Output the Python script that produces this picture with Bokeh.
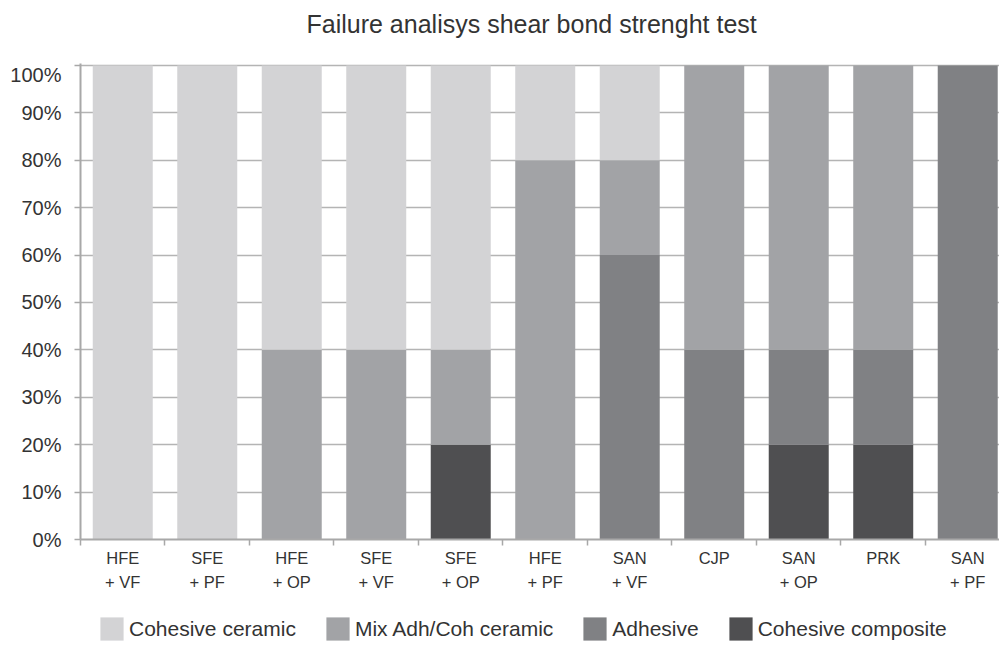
from bokeh.plotting import figure
from bokeh.layouts import column
from bokeh.models import (ColumnDataSource, FixedTicker, Range1d, Legend, LegendItem, Label)
from bokeh.embed import file_html
from bokeh.resources import INLINE

title_text = "Failure analisys shear bond strenght test"
categories = ["HFE\n+ VF", "SFE\n+ PF", "HFE\n+ OP", "SFE\n+ VF", "SFE\n+ OP", "HFE\n+ PF",
              "SAN\n+ VF", "CJP", "SAN\n+ OP", "PRK", "SAN\n+ PF"]
cohesive_ceramic = [100, 100, 60, 60, 60, 20, 20, 0, 0, 0, 0]
mix_adh_coh = [0, 0, 40, 40, 20, 80, 20, 60, 60, 60, 0]
adhesive = [0, 0, 0, 0, 0, 0, 60, 40, 20, 20, 100]
cohesive_composite = [0, 0, 0, 0, 20, 0, 0, 0, 20, 20, 0]
y_ticks = [0, 10, 20, 30, 40, 50, 60, 70, 80, 90, 100]
series_names = ["Cohesive composite", "Adhesive", "Mix Adh/Coh ceramic", "Cohesive ceramic"]
colors = ["#4f4f51", "#808184", "#a2a3a6", "#d3d3d5"]

x = list(range(len(categories)))
src = ColumnDataSource(dict(x=x, cc=cohesive_composite, ad=adhesive, mx=mix_adh_coh, ce=cohesive_ceramic))
stack_keys = ["cc", "ad", "mx", "ce"]

FONT = "Liberation Sans"
TXT = "#333333"


def strip(height):
    f = figure(width=999, height=height, output_backend="svg", toolbar_location=None,
               x_range=Range1d(-0.5, 10.376), y_range=Range1d(1000, 1001),
               x_axis_type=None, y_axis_type=None,
               min_border_left=0, min_border_right=0, min_border_top=0, min_border_bottom=0)
    f.outline_line_color = None
    f.xgrid.grid_line_color = None
    f.ygrid.grid_line_color = None
    return f


# title strip
r = strip(63)
r.add_layout(Label(x=226, y=40, x_units="screen", y_units="screen", text=title_text,
                   text_font=FONT, text_font_size="25px", text_color=TXT,
                   text_align="left", text_baseline="alphabetic"))

# main chart
p = figure(frame_width=919, frame_height=476, output_backend="svg", toolbar_location=None,
           x_range=Range1d(-0.5, 10.376), y_range=Range1d(0, 100.4),
           min_border_left=80, min_border_right=0, min_border_top=0, min_border_bottom=58)
p.outline_line_color = None
p.background_fill_color = "white"

renderers = p.vbar_stack(stack_keys, x="x", width=0.71, source=src,
                         color=colors, line_color=None)

p.xaxis.ticker = FixedTicker(ticks=x, minor_ticks=[i - 0.5 for i in range(len(categories) + 1)])
p.xaxis.major_label_overrides = {i: c for i, c in enumerate(categories)}
p.xaxis.major_tick_line_color = None
p.xaxis.minor_tick_out = 6
p.xaxis.minor_tick_in = 0
p.xaxis.minor_tick_line_color = "#a8a8a8"
p.xaxis.minor_tick_line_width = 1.5
p.xaxis.axis_line_color = "#a8a8a8"
p.xaxis.axis_line_width = 2
p.xaxis.major_label_text_font = FONT
p.xaxis.major_label_text_font_size = "16.5px"
p.xaxis.major_label_text_line_height = 1.35
p.xaxis.major_label_text_color = TXT
p.xaxis.major_label_standoff = 3

p.yaxis.ticker = FixedTicker(ticks=y_ticks, minor_ticks=[])
p.yaxis.major_label_overrides = {v: f"{v}%" for v in y_ticks}
p.yaxis.major_tick_out = 6
p.yaxis.major_tick_in = 0
p.yaxis.major_tick_line_color = "#a8a8a8"
p.yaxis.major_tick_line_width = 1.5
p.yaxis.axis_line_color = "#a8a8a8"
p.yaxis.axis_line_width = 2
p.yaxis.major_label_text_font = FONT
p.yaxis.major_label_text_font_size = "20px"
p.yaxis.major_label_text_color = TXT
p.yaxis.major_label_standoff = 13

p.xgrid.grid_line_color = None
p.ygrid.grid_line_color = "#b4b4b4"
p.ygrid.grid_line_width = 1.5
p.ygrid.ticker = FixedTicker(ticks=y_ticks)

# legend strip below the chart (its bars lie outside its visible range)
q = strip(49)
legend_renderers = q.vbar_stack(stack_keys, x="x", width=0.71, source=src,
                                color=colors, line_color=None)
items = [LegendItem(label=series_names[i], renderers=[legend_renderers[i]]) for i in [3, 2, 1, 0]]
legend = Legend(items=items, orientation="horizontal", location=(17, 3),
                glyph_width=29, glyph_height=29, label_standoff=3, spacing=27,
                label_text_font=FONT, label_text_font_size="21px", label_text_color=TXT,
                border_line_color=None, background_fill_alpha=0, margin=0, padding=0)
q.add_layout(legend)

layout = column(r, p, q, spacing=0)
open("out.html", "w").write(file_html(layout, INLINE))
